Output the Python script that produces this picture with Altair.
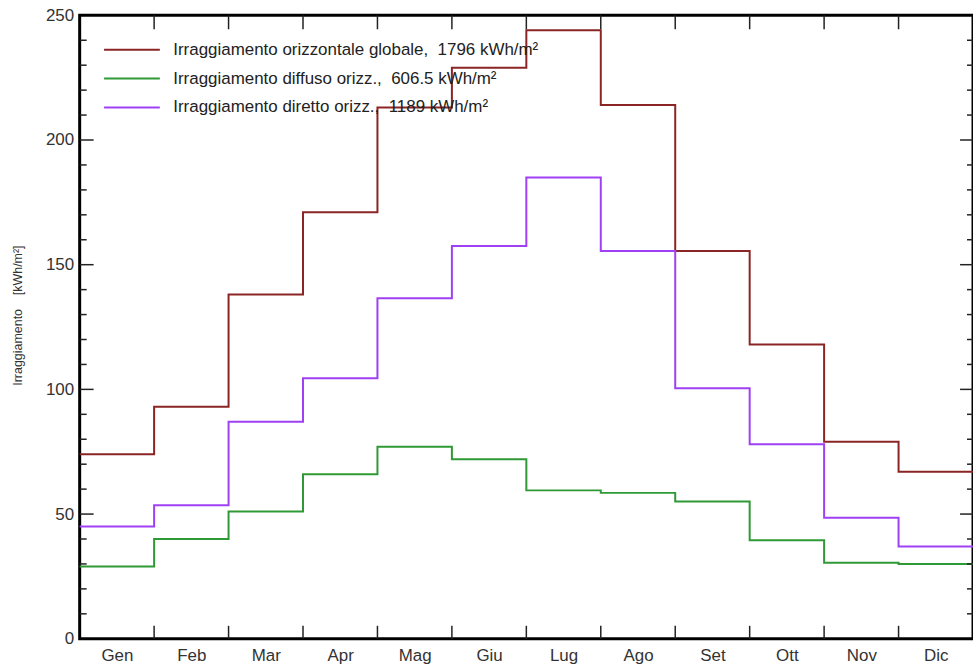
import altair as alt
import pandas as pd

months = ["Gen", "Feb", "Mar", "Apr", "Mag", "Giu", "Lug", "Ago", "Set", "Ott", "Nov", "Dic"]
series_names = [
    "Irraggiamento orizzontale globale,\u00a0\u00a01796 kWh/m²",
    "Irraggiamento diffuso orizz.,\u00a0\u00a0606.5 kWh/m²",
    "Irraggiamento diretto orizz.,\u00a0\u00a01189 kWh/m²",
]
globale = [74, 93, 138, 171, 213, 229, 244, 214, 155.5, 118, 79, 67]
diffuso = [29, 40, 51, 66, 77, 72, 59.5, 58.5, 55, 39.5, 30.5, 30]
diretto = [45, 53.5, 87, 104.5, 136.5, 157.5, 185, 155.5, 100.5, 78, 48.5, 37]
colors = ["#8b2424", "#2f9a35", "#a040f5"]

# tick positions (axis decorations)
month_bounds = list(range(1, 12))
major_ticks = list(range(50, 250, 50))
minor_ticks = [v for v in range(10, 250, 10) if v % 50]

rows = []
for name, vals in zip(series_names, [globale, diffuso, diretto]):
    for i, v in enumerate(vals):
        rows.append({"serie": name, "m": i, "v": v})
    rows.append({"serie": name, "m": len(vals), "v": vals[-1]})
df = pd.DataFrame(rows)

W, H = 897, 626
FONT = "Liberation Sans"
xs = alt.Scale(domain=[0, 12], nice=False, zero=False)
ys = alt.Scale(domain=[0, 250], nice=False)
month_expr = "[" + ",".join("'%s'" % m for m in months) + "][floor(datum.value)]"

lines = alt.Chart(df).mark_line(interpolate="step-after", strokeWidth=2).encode(
    x=alt.X("m:Q", scale=xs, axis=alt.Axis(
        orient="bottom", values=[i + 0.5 for i in range(12)], labelExpr=month_expr,
        ticks=False, domain=False, grid=False, title=None, labelFont=FONT,
        labelFontSize=17, labelColor="#333", labelPadding=9)),
    y=alt.Y("v:Q", scale=ys, axis=alt.Axis(
        orient="left", values=list(range(0, 251, 50)), ticks=False, domain=False,
        grid=False, labelFont=FONT, labelFontSize=17, labelColor="#333",
        labelPadding=6, title="Irraggiamento\u00a0\u00a0\u00a0\u00a0[kWh/m²]",
        titleFont=FONT, titleFontSize=12.5, titleFontWeight="normal", titleColor="#333",
        titleX=-62, titleY=301, titleBaseline="middle", titleAngle=270)),
    color=alt.Color("serie:N", scale=alt.Scale(domain=series_names, range=colors),
                    legend=alt.Legend(
                        title=None, orient="none", legendX=44, legendY=26,
                        symbolType="M-4,0H4", symbolSize=196, symbolStrokeWidth=2,
                        labelFont=FONT, labelFontSize=17, labelColor="#222",
                        labelLimit=700, labelOffset=33, rowPadding=11, padding=0)),
)

xb = pd.DataFrame({"b": month_bounds})
yM = pd.DataFrame({"t": major_ticks})
ym = pd.DataFrame({"t": minor_ticks})
TC = "#222"


def xrule(y1, y2):
    return alt.Chart(xb).mark_rule(color=TC, strokeWidth=1.5).encode(
        x=alt.X("b:Q", scale=xs, axis=None), y=alt.value(y1), y2=alt.value(y2))


def yrule(data, x1, x2):
    return alt.Chart(data).mark_rule(color=TC, strokeWidth=1.5).encode(
        y=alt.Y("t:Q", scale=ys, axis=None), x=alt.value(x1), x2=alt.value(x2))


chart = alt.layer(
    lines,
    xrule(H, H - 13),
    xrule(0, 14),
    yrule(yM, 0, 14),
    yrule(ym, 0, 7),
    yrule(yM, W, W - 13),
    yrule(ym, W, W - 6),
).resolve_axis(x="independent", y="independent").properties(
    width=W, height=H,
    autosize=alt.AutoSizeParams(type="none"),
    padding={"left": 80, "top": 14, "right": 0, "bottom": 32},
).configure(background="white").configure_view(stroke="black", strokeWidth=3)

chart.save("out.html", embed_options={"renderer": "svg", "actions": False})
